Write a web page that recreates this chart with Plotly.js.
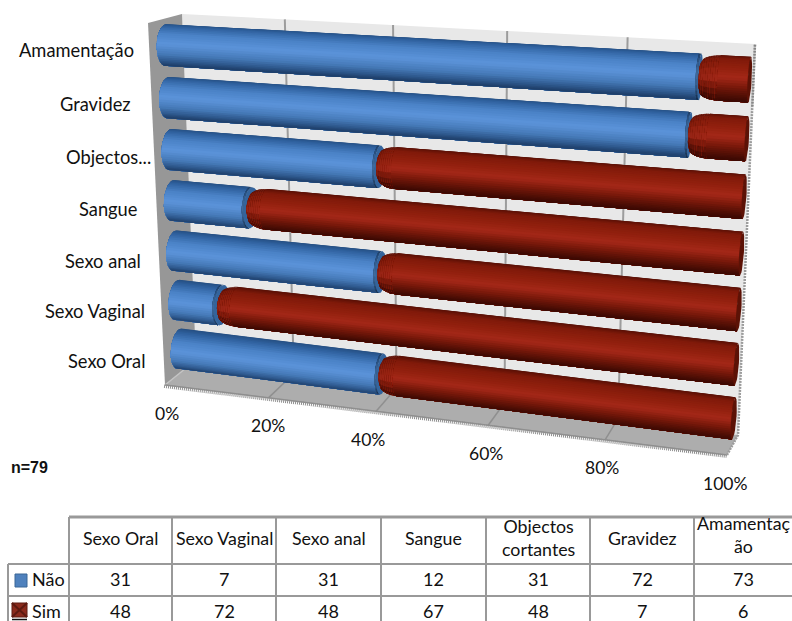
<!DOCTYPE html>
<html>
<head>
<meta charset="utf-8">
<script src="https://cdn.plot.ly/plotly-3.0.1.min.js"></script>
<style>html,body{margin:0;padding:0;background:#fff;overflow:hidden}#chart{width:792px;height:621px}</style>
</head>
<body>
<div id="chart"></div>
<script>
// Answers per topic, bottom bar first
const categories = ["Sexo Oral", "Sexo Vaginal", "Sexo anal", "Sangue", "Objectos cortantes", "Gravidez", "Amamentação"];
const nao = [31, 7, 31, 12, 31, 72, 73];
const sim = [48, 72, 48, 67, 48, 7, 6];
const axisCategoryLabels = ["Sexo Oral", "Sexo Vaginal", "Sexo anal", "Sangue", "Objectos...", "Gravidez", "Amamentação"];
const percentTicks = [0, 20, 40, 60, 80, 100];
const tableHeaders = ["Sexo Oral", "Sexo Vaginal", "Sexo anal", "Sangue", "Objectos<br>cortantes", "Gravidez", "Amamentaç<br>ão"];
const sampleNote = "n=79";

// Corners of the 3D plot box in screen pixels
const backBox = {bl: [196, 360], br: [738, 435], tr: [755, 44], tl: [182, 14]};
const frontBox = {bl: [165, 385], br: [727, 455], tr: [747, 56], tl: [148, 23]};

function quadMapper(q) {
  const [x0, y0] = q.bl, [x1, y1] = q.br, [x2, y2] = q.tr, [x3, y3] = q.tl;
  const dx1 = x1 - x2, dx2 = x3 - x2, sx = x0 - x1 + x2 - x3;
  const dy1 = y1 - y2, dy2 = y3 - y2, sy = y0 - y1 + y2 - y3;
  const den = dx1 * dy2 - dx2 * dy1;
  const g = (sx * dy2 - dx2 * sy) / den, h = (dx1 * sy - sx * dy1) / den;
  const a = x1 - x0 + g * x1, b = x3 - x0 + h * x3, d = y1 - y0 + g * y1, e = y3 - y0 + h * y3;
  return (u, v) => {
    const w = g * u + h * v + 1;
    return [(a * u + b * v + x0) / w, (d * u + e * v + y0) / w];
  };
}
const mapBack = quadMapper(backBox), mapFront = quadMapper(frontBox);
const slots = categories.length;

// pct along the value axis, depth 0 (back) to 1 (front), slot along the category axis
function project(pct, depth, slot) {
  const b = mapBack(pct / 100, slot / slots), f = mapFront(pct / 100, slot / slots);
  return [b[0] + (f[0] - b[0]) * depth, b[1] + (f[1] - b[1]) * depth];
}

const traces = [];
function polygon(points, color) {
  traces.push({type: "scatter", mode: "lines", x: points.map(p => p[0]), y: points.map(p => p[1]),
    fill: "toself", fillcolor: color, line: {color: color, width: 0}, hoverinfo: "skip", showlegend: false});
}
function polyline(points, color, width, dash) {
  traces.push({type: "scatter", mode: "lines", x: points.map(p => p[0]), y: points.map(p => p[1]),
    line: {color: color, width: width, dash: dash || "solid"}, hoverinfo: "skip", showlegend: false});
}

// Box walls and gridlines
polygon([project(0, 0, 0), project(100, 0, 0), project(100, 0, slots), project(0, 0, slots)], "#e8e8e8");
polygon([project(0, 0, 0), project(0, 1, 0), project(0, 1, slots), project(0, 0, slots)], "#979797");
polygon([project(0, 0, 0), project(100, 0, 0), project(100, 1, 0), project(0, 1, 0)], "#adadad");
percentTicks.forEach(t => {
  if (t > 0 && t < 100) polyline([project(t, 0, 0), project(t, 0, slots)], "#9c9c9c", 2);
  if (t < 100) polyline([project(t, 0, 0), project(t, 1, 0)], t === 0 ? "#c4c4c4" : "#8f8f8f", 1.5);
});
polyline([project(0, 1, 0), project(100, 1, 0)], "#8e8e8e", 1.5);
polyline([project(0, 1.03, -0.01), project(100, 1.03, -0.01)], "#909090", 3.5, "1px,1px");
polyline([project(100, 1, 0), project(100, 0, 0), project(100, 0, slots)], "#9c9c9c", 2.5, "2px,1px");
polyline([project(100, 0, slots - 1.05), project(100, 0, slots)], "#777777", 2.5, "1px,2px");

// Cylinder shading, from the top silhouette to the bottom one
const blueRamp = [[0, [38, 80, 132]], [0.1, [48, 98, 160]], [0.3, [74, 130, 198]], [0.55, [92, 148, 218]], [0.78, [70, 122, 184]], [0.92, [46, 88, 140]], [1, [30, 62, 104]]];
const redRamp = [[0, [88, 16, 6]], [0.12, [128, 26, 10]], [0.35, [146, 32, 14]], [0.55, [164, 40, 24]], [0.75, [120, 24, 10]], [0.92, [78, 14, 5]], [1, [58, 9, 3]]];
function shade(ramp, u, factor) {
  for (let i = 1; i < ramp.length; i++) {
    if (u <= ramp[i][0]) {
      const s = (u - ramp[i - 1][0]) / (ramp[i][0] - ramp[i - 1][0]);
      const c = ramp[i][1].map((v, j) => (ramp[i - 1][1][j] + (v - ramp[i - 1][1][j]) * s) * factor);
      return "rgb(" + c.map(Math.round).join(",") + ")";
    }
  }
  return "rgb(0,0,0)";
}

const radiusSlot = 0.39, radiusDepth = 0.28, axisDepth = 0.5;
const thetaTop = 108 * Math.PI / 180, thetaBottom = -72 * Math.PI / 180;

function surfacePoint(pct, slot, theta, scale) {
  return project(pct, axisDepth + radiusDepth * scale * Math.cos(theta), slot + radiusSlot * scale * Math.sin(theta));
}
// Barrel between the given stations, painted top to bottom so each band overlaps the next.
function barrel(stations, slot, ramp, factor, radius, strips) {
  const last = stations[stations.length - 1], first = stations[0];
  for (let k = 0; k < strips; k++) {
    const a = thetaTop + (thetaBottom - thetaTop) * k / strips;
    const arc = [];
    for (let j = k; j <= strips; j++) arc.push(thetaTop + (thetaBottom - thetaTop) * j / strips);
    const head = stations.map(p => surfacePoint(p, slot, a, radius(p)));
    const far = arc.map(t => surfacePoint(last, slot, t, radius(last)));
    const near = stations.slice().reverse().map(p => surfacePoint(p, slot, thetaBottom, radius(p)));
    const startArc = arc.slice().reverse().map(t => surfacePoint(first, slot, t, radius(first)));
    const u = (1 - Math.cos(Math.PI * (k + 0.5) / strips)) / 2;
    polygon(head.concat(far, near, startArc), shade(ramp, u, factor));
  }
}
function endDisc(pct, slot, color, scale) {
  const pts = [];
  for (let i = 0; i < 36; i++) pts.push(surfacePoint(pct, slot, i * Math.PI / 18, scale));
  polygon(pts, color);
}

const fullRadius = () => 1;
const redScale = 0.98, domeLength = 3, domeSteps = 8;
categories.forEach((c, i) => {
  const slot = i + 0.5;
  const split = 100 * nao[i] / (nao[i] + sim[i]);
  barrel([0, split - 0.3], slot, blueRamp, 1, fullRadius, 28);
  barrel([split - 0.3, split], slot, blueRamp, 0.72, fullRadius, 12);
  endDisc(split, slot, "#34649c", 1);
  // Red segment: a rounded nose that lightens away from its tip, then the plain barrel
  const domeEnd = split + domeLength;
  const domeRadius = p => {
    if (p >= domeEnd) return redScale;
    const s = (domeEnd - p) / domeLength;
    return redScale * (0.62 + 0.38 * Math.sqrt(1 - s * s));
  };
  for (let d = 0; d < domeSteps; d++) {
    const from = split + domeLength * d / domeSteps, to = split + domeLength * (d + 1) / domeSteps;
    const stations = [0, 0.5, 1].map(f => from + (to - from) * f);
    barrel(stations, slot, redRamp, 0.94 + 0.06 * (d + 1) / domeSteps, domeRadius, 10);
  }
  barrel([domeEnd, 100], slot, redRamp, 1, () => redScale, 28);
  endDisc(100, slot, "#5c1206", redScale);
});

// Text and table
const ink = "#111111", sans = "Lato, sans-serif";
const annotations = [];
function label(text, x, y, size, anchor, extra) {
  annotations.push(Object.assign({text: text, x: x, y: y, xref: "x", yref: "y", showarrow: false,
    xanchor: anchor || "center", yanchor: "middle", font: {family: sans, size: size, color: ink}}, extra || {}));
}
const labelRightEdges = [148, 147, 143, 139, 153, 133, 136];
const tickLabelShift = [2, 0, -8, -2, -3, -2];
axisCategoryLabels.forEach((t, i) => label(t, labelRightEdges[i], project(0, 1, i + 0.5)[1] + 0.5 - i * 0.2, 18.3, "right"));
percentTicks.forEach((t, i) => {
  const p = project(t, 1, 0);
  label(t + "%", p[0] + tickLabelShift[i], p[1] + 28, 17.5);
});
annotations.push({text: "<b>" + sampleNote + "</b>", x: 9, y: 467, xref: "x", yref: "y", showarrow: false,
  xanchor: "left", yanchor: "middle", font: {family: "Liberation Sans, sans-serif", size: 16, color: ink}});

const shapes = [];
const columnEdges = [69, 172, 276, 381, 486, 590, 694, 792];
const rowEdges = [517, 564, 596, 621];
const gridColor = "#999999";
function rule(x0, y0, x1, y1, width) {
  shapes.push({type: "line", xref: "x", yref: "y", x0: x0, y0: y0, x1: x1, y1: y1, line: {color: gridColor, width: width}});
}
rule(columnEdges[0], rowEdges[0], columnEdges[7], rowEdges[0], 3);
rule(8, rowEdges[1], columnEdges[7], rowEdges[1], 2);
rule(8, rowEdges[2], columnEdges[7], rowEdges[2], 2);
rule(8, rowEdges[1], 8, rowEdges[3], 2);
columnEdges.slice(0, 7).forEach(x => rule(x, rowEdges[0], x, rowEdges[3], 2));

tableHeaders.forEach((h, i) => {
  const cx = (columnEdges[i] + columnEdges[i + 1]) / 2;
  const isWrapped = h.indexOf("<br>") >= 0;
  label(h, cx, i === 6 ? 534 : 537.5, 17.8, "center", isWrapped ? {align: "center"} : {});
  label(String(nao[i]), cx, 579, 18);
  label(String(sim[i]), cx, 611, 18);
});
label("Não", 30, 579, 18, "left");
label("Sim", 30, 611, 18, "left");
shapes.push({type: "rect", xref: "x", yref: "y", x0: 15, x1: 27, y0: 574, y1: 587, fillcolor: "#4f81bd", line: {color: "#3a6696", width: 1}});
shapes.push({type: "rect", xref: "x", yref: "y", x0: 12, x1: 27, y0: 603, y1: 617, fillcolor: "#8a2a1c", line: {color: "#5c1a10", width: 1}});
shapes.push({type: "line", xref: "x", yref: "y", x0: 12, x1: 27, y0: 603, y1: 617, line: {color: "#5c1a10", width: 2}});
shapes.push({type: "line", xref: "x", yref: "y", x0: 27, x1: 12, y0: 603, y1: 617, line: {color: "#5c1a10", width: 2}});
shapes.push({type: "line", xref: "x", yref: "y", x0: 12, x1: 27, y0: 619.5, y1: 619.5, line: {color: "#111111", width: 1.5}});

const hiddenAxis = {visible: false, fixedrange: true};
Plotly.newPlot("chart", traces, {
  width: 792, height: 621, margin: {l: 0, r: 0, t: 0, b: 0},
  paper_bgcolor: "#ffffff", plot_bgcolor: "#ffffff", showlegend: false,
  xaxis: Object.assign({range: [0, 792]}, hiddenAxis),
  yaxis: Object.assign({range: [621, 0]}, hiddenAxis),
  annotations: annotations, shapes: shapes
}, {displayModeBar: false, staticPlot: true});
</script>
</body>
</html>
